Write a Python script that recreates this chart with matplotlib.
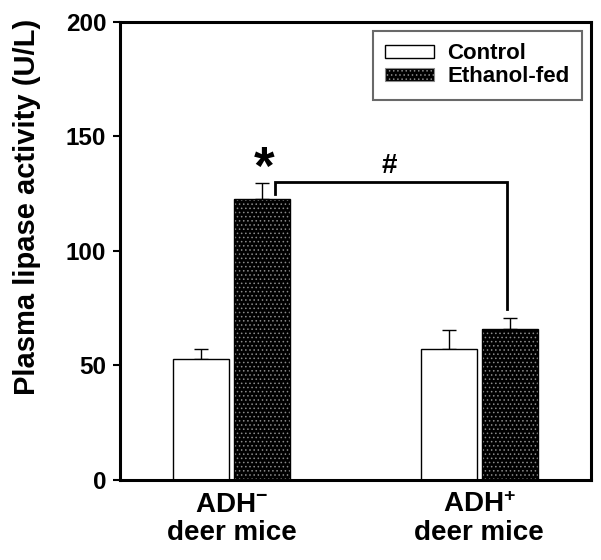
import numpy as np
import matplotlib
matplotlib.use("Agg")
import matplotlib.pyplot as plt
from matplotlib.patches import Patch

# values
groups = ["ADH$^{-}$\ndeer mice", "ADH$^{+}$\ndeer mice"]
series = ["Control", "Ethanol-fed"]
control = [53, 57]
control_err = [4, 8.5]
ethanol = [122.5, 66]
ethanol_err = [7, 4.5]
yticks = [0, 50, 100, 150, 200]

plt.rcParams['font.family'] = ['Liberation Sans', 'DejaVu Sans']
plt.rcParams['font.weight'] = 'bold'
plt.rcParams['mathtext.fontset'] = 'custom'
plt.rcParams['mathtext.rm'] = 'Liberation Sans:bold'
plt.rcParams['mathtext.bf'] = 'Liberation Sans:bold'
plt.rcParams['mathtext.default'] = 'bf'
plt.rcParams['hatch.linewidth'] = 0.6

fig = plt.figure(figsize=(6.01, 5.6), dpi=100)
ax = fig.add_axes([0.1997, 0.143, 0.7834, 0.818])

x = np.arange(len(groups))
w = 0.226
off = 0.123

errkw = dict(lw=1.0, capsize=4.8, capthick=1.0, ecolor='black')

ax.bar(x - off, control, w, color='white', edgecolor='black', lw=1.0, zorder=2)
ax.errorbar(x - off, control, yerr=[np.zeros(2), control_err], fmt='none', zorder=1, **errkw)

ax.bar(x + off, ethanol, w, color='black', edgecolor='#8a8a8a', lw=0, hatch='....', zorder=2)
ax.bar(x + off, ethanol, w, fill=False, edgecolor='black', lw=1.0, zorder=3)
ax.errorbar(x + off, ethanol, yerr=[np.zeros(2), ethanol_err], fmt='none', zorder=1, **errkw)

# significance marks
ax.text(x[0] + off + 0.01, ethanol[0] + ethanol_err[0] - 5, '*', ha='center', va='bottom',
        fontsize=38, fontweight='bold')
bx0 = x[0] + off + 0.052
bx1 = x[1] + off - 0.012
ytop = 130
ax.plot([bx0, bx0, bx1, bx1], [124.8, ytop, ytop, ethanol[1] + ethanol_err[1] + 4],
        color='black', lw=2.0, solid_joinstyle='miter', zorder=3)
ax.text((x[0] + x[1]) / 2 + 0.135, ytop + 1.5, '#', ha='center', va='bottom',
        fontsize=20, fontweight='bold')

ax.set_xlim(-0.45, 1.45)
ax.set_ylim(0, 200)
ax.set_yticks(yticks)
ax.set_xticks(x)
ax.set_xticklabels(groups, fontsize=20, fontweight='bold', linespacing=1.1)
ax.tick_params(axis='x', length=0, pad=9)
ax.tick_params(axis='y', length=5, width=1.5, labelsize=17.5, pad=5)
for s in ax.spines.values():
    s.set_linewidth(2.2)
ax.set_ylabel('Plasma lipase activity (U/L)', fontsize=21, fontweight='bold')
ax.yaxis.set_label_coords(-0.168, 0.596)

handles = [Patch(facecolor='white', edgecolor='black', lw=1.0),
           Patch(facecolor='black', edgecolor='#8a8a8a', lw=0.8, hatch='....')]
leg = ax.legend(handles, series, loc='upper right', bbox_to_anchor=(0.981, 0.980),
                fontsize=16, fancybox=False, frameon=True, handlelength=2.2,
                handleheight=0.55, borderpad=0.55, labelspacing=0.1, handletextpad=0.6,
                borderaxespad=0)
leg.get_frame().set_edgecolor('#444444')
leg.get_frame().set_linewidth(1.5)

fig.savefig('out.png', dpi=100)
